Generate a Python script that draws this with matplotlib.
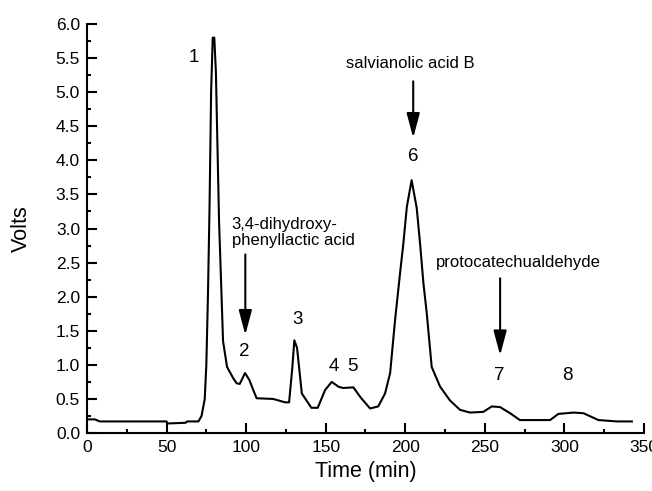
"""HPLC chromatogram with labelled peaks (time vs detector volts)."""
import matplotlib.pyplot as plt
from matplotlib.ticker import MultipleLocator

plt.rcParams["font.family"] = ["Liberation Sans", "DejaVu Sans"]

# trace
time_min = [0, 5, 8, 50, 50.5, 62, 63, 70, 72, 74, 75, 76, 77, 78, 79, 80,
            81, 82, 83, 84, 85.5, 88, 92, 94, 96, 99.3, 102, 104.5, 106.6,
            117, 124.5, 127, 129, 130.3, 132, 135, 141, 145, 149.6, 153.8,
            158, 161, 167.4, 172, 177.9, 183, 187.3, 190.5, 193.6, 196.7,
            198.8, 201, 204, 207.2, 209.3, 211.4, 213.5, 216.6, 221.9, 228,
            234.4, 240.7, 249, 254.4, 259.6, 265.9, 272, 291, 296.2, 305.7,
            312, 321.4, 333, 342.4]
volts = [0.20, 0.20, 0.17, 0.17, 0.14, 0.15, 0.17, 0.17, 0.25, 0.50, 1.0,
         2.0, 3.3, 5.0, 5.8, 5.8, 5.3, 4.2, 3.1, 2.4, 1.35, 0.97, 0.80, 0.73,
         0.72, 0.88, 0.78, 0.63, 0.51, 0.50, 0.45, 0.45, 0.95, 1.36, 1.25,
         0.58, 0.37, 0.37, 0.63, 0.75, 0.68, 0.66, 0.67, 0.52, 0.36, 0.39,
         0.58, 0.88, 1.66, 2.34, 2.78, 3.32, 3.71, 3.30, 2.78, 2.20, 1.76,
         0.97, 0.68, 0.48, 0.34, 0.30, 0.31, 0.39, 0.38, 0.29, 0.19, 0.19,
         0.28, 0.30, 0.29, 0.19, 0.17, 0.17]

peak_labels = ["1", "2", "3", "4", "5", "6", "7", "8"]
peak_x = [67, 98.7, 132.6, 155.3, 167, 205, 259, 301.7]
peak_y = [5.51, 1.19, 1.67, 0.97, 0.97, 4.05, 0.85, 0.85]

compound_names = ["salvianolic acid B", "3,4-dihydroxy-\nphenyllactic acid",
                  "protocatechualdehyde"]
arrow_x = [205, 99.5, 259.6]
arrow_top = [5.16, 2.62, 2.27]
arrow_tip = [4.33, 1.44, 1.14]
name_x = [203, 91, 271]
name_y = [5.31, 2.71, 2.39]
name_ha = ["center", "left", "center"]

fig = plt.figure(figsize=(6.52, 4.91), dpi=100)
ax = fig.add_axes([0.1334, 0.1181, 0.8543, 0.8329])

ax.plot(time_min, volts, color="black", linewidth=1.5)

for lab, x, y in zip(peak_labels, peak_x, peak_y):
    ax.text(x, y, lab, ha="center", va="center", fontsize=13.5)

for name, x, top, tip, nx, ny, ha in zip(compound_names, arrow_x, arrow_top,
                                         arrow_tip, name_x, name_y, name_ha):
    ax.annotate("", xy=(x, tip), xytext=(x, top),
                arrowprops=dict(arrowstyle="-|>,head_length=1.5,head_width=0.4",
                                color="black", lw=1.5, shrinkA=0, shrinkB=0))
    ax.text(nx, ny, name, ha=ha, va="bottom", fontsize=12,
            linespacing=1.1, multialignment="left")

ax.set_xlim(0, 350)
ax.set_ylim(0, 6.0)
ax.xaxis.set_major_locator(MultipleLocator(50))
ax.xaxis.set_minor_locator(MultipleLocator(25))
ax.yaxis.set_major_locator(MultipleLocator(0.5))
ax.yaxis.set_minor_locator(MultipleLocator(0.25))
ax.yaxis.set_major_formatter(plt.FormatStrFormatter("%.1f"))
ax.tick_params(which="both", direction="in", width=1.5, labelsize=12.5)
ax.tick_params(which="major", length=7, pad=5)
ax.tick_params(which="minor", length=3)
for side in ["top", "right"]:
    ax.spines[side].set_visible(False)
for side in ["left", "bottom"]:
    ax.spines[side].set_linewidth(1.5)

ax.set_xlabel("Time (min)", fontsize=15.5, labelpad=4)
ax.set_ylabel("Volts", fontsize=15.5, labelpad=17)

fig.savefig("out.png", dpi=100)
